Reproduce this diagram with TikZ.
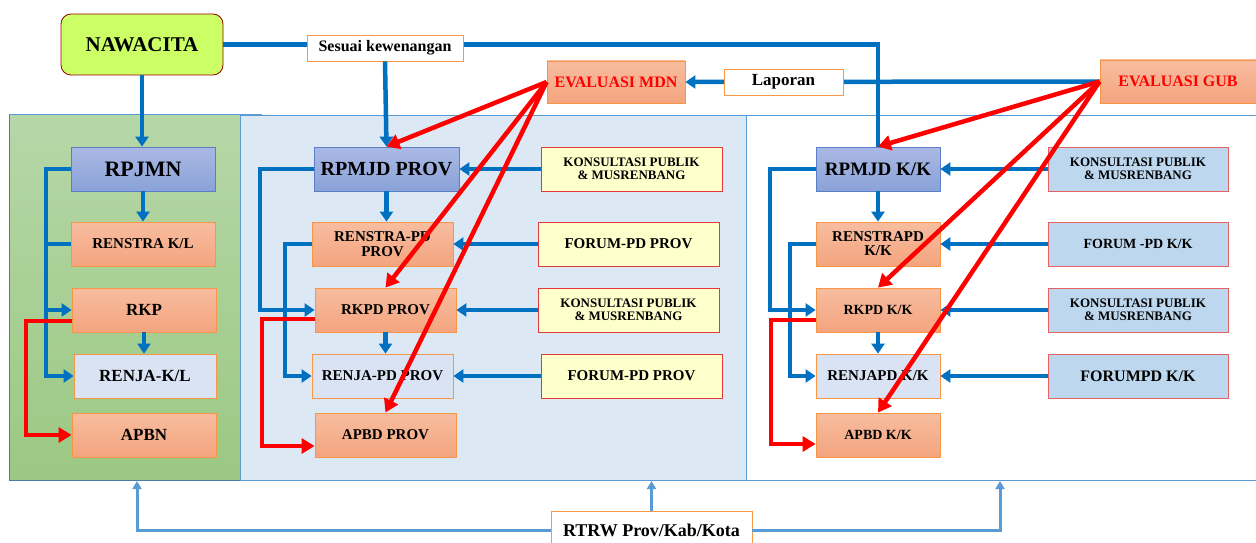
\documentclass[tikz,border=0pt]{standalone}
\usepackage{fontspec}
\setmainfont{Liberation Serif}
\usetikzlibrary{arrows.meta}
\definecolor{cblue}{HTML}{0070C0}
\definecolor{clblue}{HTML}{5B9BD5}
\definecolor{cred}{HTML}{FF0000}
\definecolor{salT}{HTML}{F7BDA0}
\definecolor{salB}{HTML}{F4A47E}
\definecolor{salD}{HTML}{F79646}
\definecolor{purT}{HTML}{AAB9E4}
\definecolor{purB}{HTML}{8AA2D8}
\definecolor{purD}{HTML}{5B7FC7}
\definecolor{lav}{HTML}{DAE3F3}
\definecolor{yel}{HTML}{FFFFCC}
\definecolor{lbfill}{HTML}{BDD7EE}
\definecolor{redD}{HTML}{E03A3A}
\definecolor{lime}{HTML}{CCFF66}
\definecolor{grT}{HTML}{B6D7A8}
\definecolor{grB}{HTML}{9BC883}
\definecolor{midbg}{HTML}{DDE8F5}
\begin{document}
\begin{tikzpicture}[x=1pt,y=-1pt,
  sz/.style 2 args={minimum width=#1pt,minimum height=#2pt,inner sep=0pt},
  fs/.style={font=\bfseries\fontsize{#1}{#1}\selectfont},
  sal/.style={draw=salD,line width=0.8pt,top color=salT,bottom color=salB,align=center},
  pur/.style={draw=purD,line width=0.8pt,top color=purT,bottom color=purB,align=center},
  lavbox/.style={draw=salD,line width=0.8pt,fill=lav,align=center},
  yelbox/.style={draw=redD,line width=0.8pt,fill=yel,align=center},
  lbbox/.style={draw=redD!80,line width=0.8pt,fill=lbfill,align=center},
  lblbox/.style={draw=salD,line width=0.8pt,fill=white,align=center},
  bl/.style={draw=cblue,line width=4.5pt},
  bla/.style={bl,-{Triangle[length=10pt,width=13pt]}},
  rda/.style={draw=cred,line width=4.5pt,-{Triangle[length=13pt,width=15pt]}},
  lba/.style={draw=clblue,line width=3pt,-{Triangle[length=8pt,width=9pt]}}
]
\useasboundingbox (0,0) rectangle (1256,543);
% panels
\shade[top color=grT,bottom color=grB] (9,114) rectangle (240,480);
\draw[clblue!80!black,line width=0.8pt] (9,114) rectangle (240,480);
\draw[clblue,line width=1pt] (9,114) -- (262,114);
\fill[midbg] (240,115) rectangle (746,480);
\draw[clblue,line width=1pt] (240,115) rectangle (746,480);
\draw[clblue,line width=1pt] (746,115) -- (1256,115);
\draw[clblue,line width=1pt] (746,480) -- (1256,480);

% top nodes
\node[draw=red!60!black,line width=0.8pt,fill=lime,rounded corners=10pt,sz={162}{61},fs=21] (naw) at (142,44.5) {NAWACITA};
\node[pur,sz={144}{44},fs=22] (rpj) at (143,169) {RPJMN};
\node[pur,sz={145}{44},fs=20] (rpp) at (386.5,169) {RPMJD PROV};
\node[pur,sz={124}{44},fs=19] (rpk) at (878,169) {RPMJD K/K};

\draw[bl] (naw.east) -| (rpk.north);
\node[lblbox,sz={156}{26},fs=16] (ses) at (385,48) {Sesuai kewenangan};
\draw[bla] (ses.south) -- (rpp.north);
\draw[bla] (naw.south) -- (naw.south |- rpj.north);

\node[sal,sz={138}{42},fs=16,text=cred] (mdn) at (616,82) {EVALUASI MDN};
\node[sal,sz={156}{43},fs=16,text=cred] (evg) at (1178,81.5) {EVALUASI GUB};
\draw[bla] (evg.west) -- (mdn.east);
\node[lblbox,sz={119}{26},fs=17] (lap) at (783.5,82) {Laporan};

% left column
\node[sal,sz={144}{44},fs=15] (renstrakl) at (143,244) {RENSTRA K/L};
\node[sal,sz={144}{44},fs=17] (rkp) at (144,310) {RKP};
\node[lavbox,sz={142}{44},fs=17] (renjakl) at (145,376) {RENJA-K/L};
\node[sal,sz={144}{44},fs=17] (apbn) at (144,435) {APBN};

% middle column
\node[sal,sz={141}{44},fs=15] (renstrapp) at (382.5,244) {RENSTRA-PD\\PROV};
\node[sal,sz={141}{44},fs=15] (rkpp) at (385.5,310) {RKPD PROV};
\node[lavbox,sz={141}{44},fs=15] (renjapp) at (382.5,376) {RENJA-PD PROV};
\node[sal,sz={141}{44},fs=15] (apbdp) at (385.5,435) {APBD PROV};
\node[yelbox,sz={181}{44},fs=13] (kp1) at (631.5,169) {KONSULTASI PUBLIK\\\& MUSRENBANG};
\node[yelbox,sz={181}{44},fs=15] (fp1) at (628.5,244) {FORUM-PD PROV};
\node[yelbox,sz={181}{44},fs=13] (kp2) at (628.5,310) {KONSULTASI PUBLIK\\\& MUSRENBANG};
\node[yelbox,sz={181}{44},fs=15] (fp2) at (631.5,376) {FORUM-PD PROV};

% right column
\node[sal,sz={124}{44},fs=15] (renstrak) at (878,244) {RENSTRAPD\\[-1pt]K/K};
\node[sal,sz={124}{44},fs=14] (rkk) at (878,310) {RKPD K/K};
\node[lavbox,sz={124}{44},fs=15] (renjak) at (878,376) {RENJAPD K/K};
\node[sal,sz={124}{44},fs=14] (apk) at (878,435) {APBD K/K};
\node[lbbox,sz={180}{44},fs=13] (kk1) at (1138,169) {KONSULTASI PUBLIK\\\& MUSRENBANG};
\node[lbbox,sz={180}{44},fs=14] (fk1) at (1138,244) {FORUM -PD K/K};
\node[lbbox,sz={180}{44},fs=13] (kk2) at (1138,310) {KONSULTASI PUBLIK\\\& MUSRENBANG};
\node[lbbox,sz={180}{44},fs=16] (fk2) at (1138,376) {FORUMPD K/K};

% helper coordinates
\coordinate (lx) at (46,0);
\coordinate (rx1) at (26,0);
\coordinate (mx1) at (260,0);
\coordinate (mx2) at (285,0);
\coordinate (mrx) at (262,0);
\coordinate (kx1) at (770,0);
\coordinate (kx2) at (790,0);
\coordinate (krx) at (771,0);

% left blue connectors
\draw[bla] (rpj.west) -- (rpj.west -| lx) |- (renjakl.west);
\draw[bla] (rkp.west -| lx) -- (rkp.west);
\draw[bl] (renstrakl.west) -- (renstrakl.west -| lx);
\draw[bla] (rpj.south) -- (rpj.south |- renstrakl.north);
\draw[bla] (rkp.south) -- (rkp.south |- renjakl.north);
% left red
\coordinate (rkpr) at ([yshift=-11pt]rkp.west);
\draw[rda] (rkpr) -- (rkpr -| rx1) |- (apbn.west);

% middle blue
\draw[bla] (rpp.west) -- (rpp.west -| mx1) |- (rkpp.west);
\draw[bla] (renstrapp.west) -- (renstrapp.west -| mx2) |- (renjapp.west);
\draw[bla] (rpp.south) -- (rpp.south |- renstrapp.north);
\draw[bla] (rkpp.south) -- (rkpp.south |- renjapp.north);
\draw[bla] (kp1.west) -- (rpp.east);
\draw[bla] (fp1.west) -- (renstrapp.east);
\draw[bla] (kp2.west) -- (rkpp.east);
\draw[bla] (fp2.west) -- (renjapp.east);
% middle red
\coordinate (rkppr) at ([yshift=-9pt]rkpp.west);
\coordinate (apbdpr) at ([yshift=-11pt]apbdp.west);
\draw[rda] (rkppr) -- (rkppr -| mrx) |- (apbdpr);

% right blue
\draw[bla] (rpk.west) -- (rpk.west -| kx1) |- (rkk.west);
\draw[bla] (renstrak.west) -- (renstrak.west -| kx2) |- (renjak.west);
\draw[bla] (rpk.south) -- (rpk.south |- renstrak.north);
\draw[bla] (rkk.south) -- (rkk.south |- renjak.north);
\draw[bla] (kk1.west) -- (rpk.east);
\draw[bla] (fk1.west) -- (renstrak.east);
\draw[bla] (kk2.west) -- (rkk.east);
\draw[bla] (fk2.west) -- (renjak.east);
% right red
\coordinate (rkkr) at ([yshift=-10pt]rkk.west);
\coordinate (apkr) at ([yshift=-9pt]apk.west);
\draw[rda] (rkkr) -- (rkkr -| krx) |- (apkr);

% evaluation red arrows
\draw[rda] (mdn.west) -- (rpp.north);
\draw[rda] (mdn.west) -- (rkpp.north);
\draw[rda] (mdn.west) -- (apbdp.north);
\draw[rda] (evg.west) -- (rpk.north);
\draw[rda] (evg.west) -- (rkk.north);
\draw[rda] (evg.west) -- (apk.north);

% bottom RTRW
\node[lblbox,sz={201}{38},fs=18,text depth=0pt] (rtrw) at (651.5,530) {RTRW Prov/Kab/Kota};
\coordinate (t1) at (137,481);
\coordinate (t3) at (1000,481);
\draw[lba] (rtrw.west) -| (t1);
\draw[lba] (rtrw.north) -- (rtrw.north |- t1);
\draw[lba] (rtrw.east) -| (t3);
\end{tikzpicture}
\end{document}
